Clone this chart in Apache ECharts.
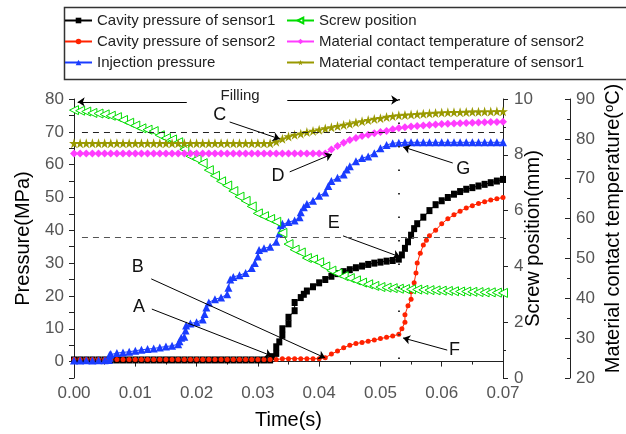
<!DOCTYPE html>
<html><head><meta charset="utf-8">
<script src="https://cdn.jsdelivr.net/npm/echarts@6.0.0/dist/echarts.min.js"></script>
<style>html,body{margin:0;padding:0;background:#fff}#c{width:626px;height:434px}</style>
</head><body><div id="c"></div><script>
// ---------- data ----------
const seriesNames = ['Cavity pressure of sensor1','Cavity pressure of sensor2','Injection pressure','Screw position','Material contact temperature of sensor2','Material contact temperature of sensor1'];
const xTickLabels = ['0.00','0.01','0.02','0.03','0.04','0.05','0.06','0.07'];

// common 1 ms time grid (s)
const gridTime = [0,0.001,0.002,0.003,0.004,0.005,0.006,0.007,0.008,0.009,0.010,0.011,0.012,0.013,0.014,0.015,0.016,0.017,0.018,0.019,0.020,0.021,0.022,0.023,0.024,0.025,0.026,0.027,0.028,0.029,0.030,0.031,0.032,0.033,0.034,0.035,0.036,0.037,0.038,0.039,0.040,0.041,0.042,0.043,0.044,0.045,0.046,0.047,0.048,0.049,0.050,0.051,0.052,0.053,0.054,0.055,0.056,0.057,0.058,0.059,0.060,0.061,0.062,0.063,0.064,0.065,0.066,0.067,0.068,0.069,0.070];

// Screw position (mm)
const screwPos = [9.6,9.58,9.55,9.5,9.48,9.45,9.4,9.35,9.25,9.15,9.05,8.95,8.9,8.85,8.7,8.6,8.55,8.45,8.2,7.95,7.85,7.7,7.45,7.25,7.05,6.9,6.7,6.5,6.35,6.15,5.9,5.8,5.7,5.6,5.2,4.8,4.6,4.5,4.3,4.25,4.15,4.0,3.85,3.75,3.65,3.58,3.5,3.42,3.36,3.3,3.26,3.24,3.22,3.2,3.19,3.18,3.17,3.16,3.15,3.14,3.13,3.12,3.11,3.1,3.1,3.09,3.08,3.07,3.07,3.06,3.05];

// Material contact temperature of sensor2 (°C)
const temp2 = [76.3,76.3,76.3,76.3,76.3,76.3,76.3,76.3,76.3,76.3,76.3,76.3,76.3,76.3,76.3,76.3,76.3,76.3,76.3,76.3,76.3,76.3,76.3,76.3,76.3,76.3,76.3,76.3,76.3,76.3,76.3,76.3,76.3,76.3,76.3,76.3,76.3,76.3,76.3,76.3,76.3,76.3,77.3,78.2,79.0,79.7,80.2,80.7,81.0,81.4,81.7,82.0,82.4,82.7,82.9,83.1,83.2,83.35,83.5,83.6,83.7,83.8,83.85,83.9,84.0,84.05,84.1,84.15,84.2,84.25,84.3];

// Material contact temperature of sensor1 (°C)
const temp1 = [78.9,78.9,78.9,78.9,78.9,78.9,78.9,78.9,78.9,78.9,78.9,78.9,78.9,78.9,78.9,78.9,78.9,78.9,78.9,78.9,78.9,78.9,78.9,78.9,78.9,78.9,78.9,78.9,78.9,78.9,78.9,78.9,78.9,79.3,80.0,80.6,81.0,81.3,81.7,82.0,82.3,82.6,82.9,83.2,83.5,83.8,84.1,84.4,84.7,85.0,85.2,85.5,85.7,85.9,86.0,86.1,86.2,86.3,86.4,86.5,86.6,86.65,86.7,86.7,86.75,86.8,86.8,86.85,86.85,86.9,86.9];

// Injection pressure (MPa)
const injTime = [0,0.001,0.002,0.003,0.004,0.005,0.0057,0.0058,0.0058,0.006,0.007,0.008,0.009,0.010,0.011,0.012,0.013,0.014,0.015,0.016,0.017,0.0172,0.0175,0.018,0.0182,0.0183,0.019,0.020,0.021,0.0213,0.0216,0.022,0.023,0.024,0.025,0.0252,0.0255,0.026,0.027,0.028,0.029,0.0295,0.030,0.0302,0.031,0.032,0.033,0.0335,0.0337,0.034,0.035,0.036,0.0368,0.037,0.0375,0.038,0.039,0.040,0.041,0.0415,0.042,0.043,0.044,0.0445,0.045,0.046,0.047,0.048,0.049,0.050,0.051,0.052,0.053,0.054,0.055,0.056,0.057,0.058,0.059,0.060,0.061,0.062,0.063,0.064,0.065,0.066,0.067,0.068,0.069,0.070];
const injPressure = [0.3,0.3,0.4,0.3,0.4,0.4,0.5,1.2,2.0,2.3,2.6,2.8,3.0,3.3,3.6,3.8,4.0,4.3,4.6,4.8,5.3,6.2,7.3,7.6,9.5,11.0,11.6,12.0,12.8,14.5,16.5,18.0,19.0,19.5,20.5,22.5,25.0,25.8,26.3,27.0,28.5,30.0,32.0,34.0,34.5,35.0,36.5,39.0,41.5,42.0,42.5,43.0,44.0,45.5,47.0,48.0,49.0,50.5,51.5,53.5,55.0,56.0,57.0,58.5,59.5,61.0,62.0,62.5,63.5,65.0,66.0,66.5,66.7,66.8,66.8,66.8,66.8,66.8,66.8,66.8,66.8,66.8,66.8,66.8,66.8,66.8,66.8,66.8,66.8,66.8];

// Cavity pressure of sensor1 (MPa)
const cav1Time = [0,0.001,0.002,0.003,0.004,0.005,0.006,0.007,0.008,0.009,0.010,0.011,0.012,0.013,0.014,0.015,0.016,0.017,0.018,0.019,0.020,0.021,0.022,0.023,0.024,0.025,0.026,0.027,0.028,0.029,0.030,0.031,0.032,0.0323,0.033,0.033,0.0335,0.034,0.034,0.035,0.035,0.036,0.036,0.037,0.0375,0.038,0.039,0.040,0.041,0.042,0.043,0.044,0.045,0.046,0.047,0.048,0.049,0.050,0.051,0.052,0.053,0.0535,0.054,0.0545,0.055,0.0555,0.056,0.057,0.058,0.059,0.060,0.061,0.062,0.063,0.064,0.065,0.066,0.067,0.068,0.069,0.070];
const cav1Pressure = [0.5,0.5,0.5,0.5,0.5,0.5,0.5,0.5,0.5,0.5,0.5,0.5,0.5,0.5,0.5,0.5,0.5,0.5,0.5,0.5,0.5,0.5,0.5,0.5,0.5,0.5,0.5,0.5,0.5,0.5,0.5,0.5,0.5,1.5,2.5,4.5,6.0,8.0,10.0,11.5,13.5,15.5,18.0,19.5,20.5,21.5,22.8,24.0,25.0,26.0,26.8,27.4,28.0,28.6,29.1,29.6,30.0,30.3,30.6,30.8,31.2,32.5,34.5,36.5,38.5,40.5,42.0,44.0,46.0,47.8,49.0,50.0,51.0,51.8,52.5,53.0,53.5,54.0,54.5,55.0,55.5];

// Cavity pressure of sensor2 (MPa)
const cav2Time = [0,0.001,0.002,0.003,0.004,0.005,0.006,0.007,0.008,0.009,0.010,0.011,0.012,0.013,0.014,0.015,0.016,0.017,0.018,0.019,0.020,0.021,0.022,0.023,0.024,0.025,0.026,0.027,0.028,0.029,0.030,0.031,0.032,0.033,0.034,0.035,0.036,0.037,0.038,0.039,0.040,0.041,0.042,0.043,0.044,0.045,0.046,0.047,0.048,0.049,0.050,0.051,0.052,0.053,0.0535,0.054,0.054,0.0545,0.055,0.055,0.0555,0.0558,0.056,0.0565,0.057,0.0575,0.058,0.059,0.060,0.061,0.062,0.063,0.064,0.065,0.066,0.067,0.068,0.069,0.070];
const cav2Pressure = [0.6,0.6,0.6,0.6,0.6,0.6,0.6,0.6,0.6,0.6,0.6,0.6,0.6,0.6,0.6,0.6,0.6,0.6,0.6,0.6,0.6,0.6,0.6,0.6,0.6,0.6,0.6,0.6,0.6,0.6,0.6,0.6,0.6,0.6,0.9,0.9,0.9,0.9,0.9,0.9,0.9,1.2,2.3,3.2,4.2,5.0,5.5,5.8,6.2,6.6,7.0,7.4,7.8,8.3,10.0,12.0,14.3,17.0,19.0,21.3,24.0,27.0,30.0,33.0,35.5,37.0,38.3,40.0,42.0,43.5,44.7,45.8,46.8,47.5,48.2,48.7,49.2,49.6,50.0];

// annotations (data coordinates on time / pressure axes)
const annotLabels = ['Filling','A','B','C','D','E','F','G'];
const annotLabelPos = [[0.0271,79.0],[0.0106,16.6],[0.0104,28.8],[0.0238,75.1],[0.0333,56.5],[0.0424,42.2],[0.0621,3.5],[0.0635,58.7]];
const annotArrows = [
  [[0.0184,79.1],[0.0006,79.1]],
  [[0.0348,79.7],[0.0529,79.7]],
  [[0.0254,73.0],[0.0336,67.8]],
  [[0.0352,57.8],[0.0421,63.2]],
  [[0.0618,60.5],[0.0537,65.4]],
  [[0.0439,38.3],[0.0532,31.9]],
  [[0.0609,3.5],[0.0537,7.2]],
  [[0.0127,16.0],[0.0323,1.7]],
  [[0.0126,25.2],[0.0410,1.1]]
];
const dashLevels = [70, 38];
const fillingEnd = 0.053;

// ---------- chart ----------
const zip = (a, b) => a.map((v, i) => [v, b[i]]);
const FONT = "'Liberation Sans', Arial, sans-serif";
const STAR = 'path://M50,0 L61,35 L98,35 L68,57 L79,91 L50,70 L21,91 L32,57 L2,35 L39,35 Z';
const colors = ['#000000', '#ff2200', '#1a3cff', '#00dd00', '#ff3cff', '#999900'];

const chart = echarts.init(document.getElementById('c'), null, {renderer: 'canvas'});

function mkSeries(i, data, yIdx, symbol, size, extra) {
  return Object.assign({
    name: seriesNames[i], type: 'line', xAxisIndex: 0, yAxisIndex: yIdx,
    data: data, symbol: symbol, symbolSize: size, showSymbol: true,
    lineStyle: {color: colors[i], width: 1},
    itemStyle: {color: colors[i]},
    emphasis: {disabled: true}, animation: false
  }, extra || {});
}

const axisLabelStyle = {color: '#555', fontSize: 17, fontFamily: FONT};
const nameStyle = {color: '#000', fontSize: 20, fontFamily: FONT};
const legendText = {fontSize: 15, color: '#222', fontFamily: FONT, lineHeight: 17};

const option = {
  backgroundColor: '#fff',
  animation: false,
  grid: {left: 74, right: 123, top: 99, bottom: 56, containLabel: false, outerBoundsMode: 'none'},
  legend: [
    {data: seriesNames.slice(0, 3), orient: 'vertical', left: 64, top: 12, padding: 0, itemGap: 4, itemWidth: 27, itemHeight: 7,
     textStyle: legendText, selectedMode: false},
    {data: seriesNames.slice(3, 6), orient: 'vertical', left: 286, top: 12, padding: 0, itemGap: 4, itemWidth: 27, itemHeight: 7,
     textStyle: legendText, selectedMode: false}
  ],
  graphic: [
    {type: 'rect', left: 62, top: 5, shape: {width: 600, height: 72}, style: {fill: 'none', stroke: '#333', lineWidth: 1.5}, silent: true}
  ],
  xAxis: {
    type: 'value', min: 0, max: 0.07, interval: 0.01,
    name: 'Time(s)', nameLocation: 'middle', nameGap: 32, nameMoveOverlap: false, nameTextStyle: nameStyle,
    axisLine: {lineStyle: {color: '#222'}},
    axisTick: {length: 5, lineStyle: {color: '#222'}},
    minorTick: {show: true, splitNumber: 2, length: 3, lineStyle: {color: '#222'}},
    axisLabel: Object.assign({margin: 7, formatter: v => xTickLabels[Math.round(v * 100)] || ''}, axisLabelStyle),
    splitLine: {show: false}
  },
  yAxis: [
    {type: 'value', min: -5, max: 80, interval: 5, position: 'left',
     name: 'Pressure(MPa)', nameLocation: 'middle', nameGap: 41, nameMoveOverlap: false, nameTextStyle: nameStyle,
     axisLine: {show: true, lineStyle: {color: '#222'}},
     axisTick: {show: true, length: 5, lineStyle: {color: '#222'}},
     axisLabel: Object.assign({margin: 10, formatter: v => (v >= 0 && v % 10 === 0) ? String(v) : ''}, axisLabelStyle),
     splitLine: {show: false}},
    {type: 'value', min: 0, max: 10, interval: 2, position: 'right',
     name: 'Screw position(mm)', nameLocation: 'middle', nameGap: 20, nameMoveOverlap: false, nameTextStyle: nameStyle,
     axisLine: {show: true, lineStyle: {color: '#222'}},
     axisTick: {show: true, length: 5, lineStyle: {color: '#222'}},
     minorTick: {show: true, splitNumber: 2, length: 3, lineStyle: {color: '#222'}},
     axisLabel: Object.assign({margin: 11}, axisLabelStyle), splitLine: {show: false}},
    {type: 'value', min: 20, max: 90, interval: 10, position: 'right', offset: 67,
     name: 'Material contact temperature({sup|o}C)', nameLocation: 'middle', nameGap: 33, nameMoveOverlap: false,
     nameTextStyle: Object.assign({padding: [0, 0, 0, 20], rich: {sup: {fontSize: 13, verticalAlign: 'top', fontFamily: FONT, color: '#000', padding: [0, 0, 8, 0]}}}, nameStyle),
     axisLine: {show: true, lineStyle: {color: '#222'}},
     axisTick: {show: true, inside: true, length: 5, lineStyle: {color: '#222'}},
     minorTick: {show: true, splitNumber: 2, length: 3, lineStyle: {color: '#222'}},
     axisLabel: Object.assign({margin: 6}, axisLabelStyle), splitLine: {show: false}}
  ],
  series: [
    mkSeries(0, zip(cav1Time, cav1Pressure), 0, 'rect', [6, 7]),
    mkSeries(1, zip(cav2Time, cav2Pressure), 0, 'circle', 5),
    mkSeries(2, zip(injTime, injPressure), 0, 'triangle', 8),
    mkSeries(3, zip(gridTime, screwPos), 1, 'triangle', 9, {symbolRotate: 90, itemStyle: {color: '#fff', borderColor: colors[3], borderWidth: 1}}),
    mkSeries(4, zip(gridTime, temp2), 2, 'diamond', 8),
    mkSeries(5, zip(gridTime, temp1), 2, STAR, 10),
    {
      type: 'line', xAxisIndex: 0, yAxisIndex: 0, data: [], silent: true, animation: false,
      markLine: {
        silent: true, symbol: ['none', 'arrow'], symbolSize: 7, animation: false,
        label: {show: false},
        data: [].concat(
          annotArrows.map(a => [{coord: a[0], symbol: 'none', lineStyle: {color: '#000', width: 1, type: 'solid'}},
                                 {coord: a[1], symbol: 'arrow'}]),
          dashLevels.map((lv, i) => [{coord: [0.0013, lv], symbol: 'none', lineStyle: {color: i ? '#555' : '#222', width: 1, type: [6, 5]}},
                                      {coord: [0.07, lv], symbol: 'none'}]),
          [[{coord: [fillingEnd, 80], symbol: 'none', lineStyle: {color: '#333', width: 2, type: [1.5, 22]}},
            {coord: [fillingEnd, -5], symbol: 'none'}]]
        )
      },
      markPoint: {
        silent: true, symbol: 'circle', symbolSize: 0, animation: false,
        data: annotLabels.map((t, i) => ({coord: annotLabelPos[i], value: t,
          label: {show: true, position: 'inside', offset: i === 0 ? [0, -6] : [0, 0], formatter: t, fontFamily: FONT, color: i === 0 ? '#222' : '#111', fontSize: i === 0 ? 15 : 18}}))
      }
    }
  ]
};
chart.setOption(option);
</script></body></html>
